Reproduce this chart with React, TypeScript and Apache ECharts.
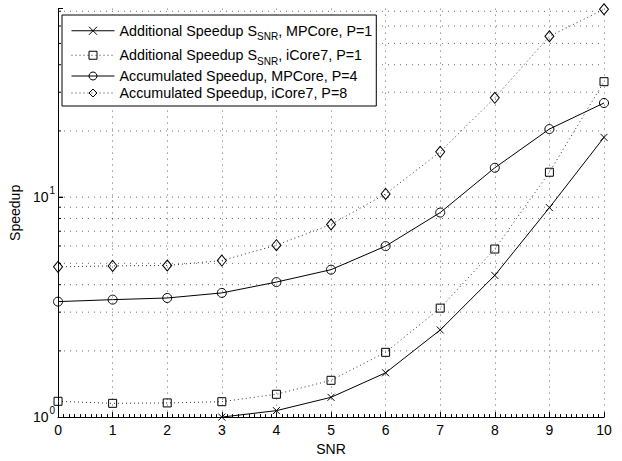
import React, { useEffect, useRef } from "react";
import * as echarts from "echarts";

const SNR = [0, 1, 2, 3, 4, 5, 6, 7, 8, 9, 10];
const ADD_MPCORE_X = [3, 4, 5, 6, 7, 8, 9, 10];
const ADD_MPCORE = [1.0, 1.07, 1.23, 1.59, 2.49, 4.41, 8.96, 18.7];
const ADD_ICORE7 = [1.18, 1.155, 1.16, 1.175, 1.27, 1.47, 1.97, 3.13, 5.81, 12.98, 33.5];
const ACC_MPCORE = [3.35, 3.42, 3.48, 3.67, 4.11, 4.68, 5.99, 8.51, 13.6, 20.4, 26.8];
const ACC_ICORE7 = [4.82, 4.87, 4.89, 5.15, 6.05, 7.51, 10.35, 16.07, 28.3, 53.9, 71.5];
const SERIES_NAMES = [
  "Additional Speedup S_SNR, MPCore, P=1",
  "Additional Speedup S_SNR, iCore7, P=1",
  "Accumulated Speedup, MPCore, P=4",
  "Accumulated Speedup, iCore7, P=8",
];
const Y_GRID_VALUES = [2, 3, 4, 5, 6, 7, 8, 9, 10, 20, 30, 40, 50, 60, 70];
const Y_MIN = 1;
const Y_MAX = 72;
const X_MIN = 0;
const X_MAX = 10;

const FONT = '"Liberation Sans", Arial, Helvetica, sans-serif';

function pairs(xs: number[], ys: number[]) {
  return ys.map((y, i) => [xs[i], y]);
}

export default function App() {
  const ref = useRef<HTMLDivElement>(null);
  useEffect(() => {
    if (!ref.current) return;
    const chart = echarts.init(ref.current, null, { renderer: "svg" });
    const hollow = { color: "rgba(255,255,255,0)", borderColor: "#000", borderWidth: 1 };
    const solid = { color: "#000", width: 1, type: "solid" as const };
    const dotted = { color: "#333", width: 1, type: [1, 3] as any };
    const option: any = {
      animation: false,
      textStyle: { fontFamily: FONT },
      grid: { left: 56, right: 18, top: 8.6, bottom: 37.7, containLabel: false },
      legend: {
        orient: "vertical",
        left: 62,
        top: 15,
        itemWidth: 43,
        itemHeight: 10,
        itemGap: 3,
        padding: [5, 4, 6, 9],
        borderColor: "#000",
        borderWidth: 1,
        borderRadius: 0,
        backgroundColor: "#fff",
        selectedMode: false,
        data: SERIES_NAMES,
        lineStyle: { width: 1 },
        itemStyle: { borderWidth: 1 },
        formatter: (name: string) => {
          const parts = name.split("S_SNR");
          if (parts.length > 1) return `{a|${parts[0]}S}{s|SNR}{a|${parts[1]}}`;
          return `{a|${name}}`;
        },
        textStyle: {
          fontFamily: FONT,
          fontSize: 14.3,
          color: "#000",
          rich: {
            a: { fontFamily: FONT, fontSize: 14.3, lineHeight: 14, color: "#000", verticalAlign: "top" },
            s: { fontFamily: FONT, fontSize: 10, lineHeight: 10, color: "#000", padding: [11.5, 0, 0, 0] },
          },
        },
      },
      xAxis: {
        type: "value",
        min: X_MIN,
        max: X_MAX,
        interval: 1,
        name: "SNR",
        nameLocation: "middle",
        nameGap: 24,
        nameTextStyle: { fontFamily: FONT, fontSize: 14, color: "#000" },
        axisLine: { show: true, lineStyle: { color: "#000", width: 1 } },
        axisTick: { show: true, inside: true, length: 5, lineStyle: { color: "#000", width: 1 } },
        minorTick: { show: true, splitNumber: 10, length: 3, lineStyle: { color: "#000", width: 1 } },
        axisLabel: { fontFamily: FONT, fontSize: 14, color: "#000", margin: 6 },
        splitLine: { show: true, lineStyle: { color: "#444", width: 0.8, type: [1, 5] } },
      },
      yAxis: {
        type: "log",
        logBase: 10,
        min: Y_MIN,
        max: Y_MAX,
        name: "Speedup",
        nameLocation: "middle",
        nameGap: 33,
        nameTextStyle: { fontFamily: FONT, fontSize: 14, color: "#000" },
        axisLine: { show: true, lineStyle: { color: "#000", width: 1 } },
        axisTick: { show: true, inside: true, length: 5, lineStyle: { color: "#000", width: 1 } },
        axisLabel: {
          margin: 3,
          formatter: (v: number) => {
            const e = Math.round(Math.log10(v));
            if (Math.abs(v - Math.pow(10, e)) < 1e-6) return `{b|10}{s|${e}}`;
            return "";
          },
          rich: {
            b: { fontFamily: FONT, fontSize: 14, lineHeight: 16, color: "#000" },
            s: { fontFamily: FONT, fontSize: 10, lineHeight: 10, color: "#000", padding: [0, 0, 13, 1] },
          },
        },
        splitLine: { show: false },
      },
      series: [
        {
          type: "custom",
          silent: true,
          z: 1,
          clip: false,
          data: Y_GRID_VALUES.map((v) => [X_MIN, v]),
          renderItem: (params: any, api: any) => {
            const v = api.value(1);
            const p0 = api.coord([X_MIN, v]);
            const p1 = api.coord([X_MAX, v]);
            const isMajor = Math.abs(Math.log10(v) - Math.round(Math.log10(v))) < 1e-9;
            return {
              type: "group",
              children: [
                {
                  type: "line",
                  shape: { x1: p0[0], y1: p0[1], x2: p1[0], y2: p1[1] },
                  style: { stroke: "#444", lineWidth: 0.8, lineDash: [1, 5] },
                },
                {
                  type: "line",
                  shape: { x1: p0[0], y1: p0[1], x2: p0[0] + (isMajor ? 5 : 3), y2: p0[1] },
                  style: { stroke: "#000", lineWidth: 1 },
                },
              ],
            };
          },
        },
        {
          name: SERIES_NAMES[0],
          type: "line",
          z: 3,
          data: pairs(ADD_MPCORE_X, ADD_MPCORE),
          symbol: "path://M0,0L10,10M10,0L0,10",
          symbolSize: 7,
          showAllSymbol: true,
          lineStyle: solid,
          itemStyle: hollow,
        },
        {
          name: SERIES_NAMES[1],
          type: "line",
          z: 3,
          data: pairs(SNR, ADD_ICORE7),
          symbol: "rect",
          symbolSize: 8,
          showAllSymbol: true,
          lineStyle: dotted,
          itemStyle: hollow,
        },
        {
          name: SERIES_NAMES[2],
          type: "line",
          z: 3,
          data: pairs(SNR, ACC_MPCORE),
          symbol: "circle",
          symbolSize: 9,
          showAllSymbol: true,
          lineStyle: solid,
          itemStyle: hollow,
        },
        {
          name: SERIES_NAMES[3],
          type: "line",
          z: 3,
          data: pairs(SNR, ACC_ICORE7),
          symbol: "diamond",
          symbolSize: [9, 11],
          showAllSymbol: true,
          lineStyle: dotted,
          itemStyle: hollow,
        },
      ],
    };
    chart.setOption(option);
    return () => chart.dispose();
  }, []);
  return (
    <div
      ref={ref}
      style={{ position: "absolute", left: 0, top: 0, width: 622, height: 461, background: "#fff" }}
    />
  );
}
